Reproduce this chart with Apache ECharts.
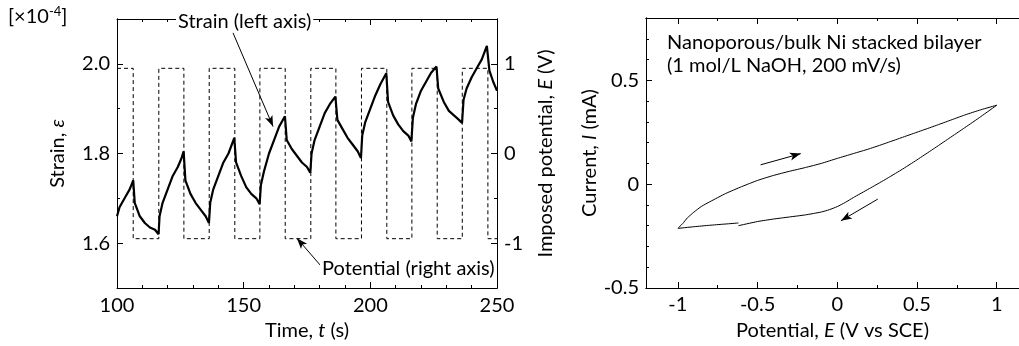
<!DOCTYPE html>
<html>
<head>
<meta charset="utf-8">
<script src="https://cdn.jsdelivr.net/npm/echarts@6/dist/echarts.min.js"></script>
<style>
html,body{margin:0;padding:0;background:#fff;}
#c{width:1019px;height:346px;}
</style>
</head>
<body>
<div id="c"></div>
<script>
// ---------- data ----------
// Left panel: strain (x1e-4) vs time (s)
const strainTime = [100,101,103,105,106.4, 107,109,111,113,115,116.4,
  116.8,118,120,122,124,125.5,126.3, 127,129,131,133,135,136.3,
  136.8,138,140,142,144,146.3, 147,149,151,153,155,156.3,
  156.8,158,160,162,164,166.3, 167,169,171,173,175,176.3,
  176.8,178,180,182,184,186.2, 187,189,191,193,195,196.3,
  196.8,198,200,202,204,206.3, 207,209,211,213,215,216.2,
  216.8,218,220,222,224,226.1, 226.8,229,231,233,235,236.2,
  236.8,238,240,242,244,246, 247,248.5,250];
const strainValue = [1.66,1.68,1.70,1.72,1.74, 1.69,1.66,1.645,1.635,1.63,1.62,
  1.66,1.69,1.72,1.75,1.77,1.79,1.805, 1.74,1.71,1.69,1.675,1.66,1.645,
  1.69,1.72,1.75,1.78,1.80,1.835, 1.78,1.75,1.725,1.71,1.70,1.687,
  1.73,1.76,1.80,1.83,1.86,1.883, 1.83,1.81,1.795,1.78,1.77,1.757,
  1.80,1.83,1.86,1.89,1.91,1.927, 1.875,1.855,1.835,1.82,1.805,1.79,
  1.84,1.87,1.90,1.93,1.955,1.979, 1.915,1.885,1.865,1.85,1.84,1.827,
  1.88,1.91,1.94,1.96,1.98,1.994, 1.945,1.915,1.895,1.885,1.875,1.868,
  1.92,1.945,1.97,1.99,2.01,2.04, 1.985,1.96,1.94];
// Imposed potential (V): switching times and level held from each time
const potentialTime = [100,106.4,116.5,126.4,136.4,146.5,156.4,166.4,176.5,186.4,196.5,206.5,216.4,226.4,236.3,246.4,250];
const potentialValue = [0.95,-0.95,0.95,-0.95,0.95,-0.95,0.95,-0.95,0.95,-0.95,0.95,-0.95,0.95,-0.95,0.95,-0.95,-0.95];
// Left axis ticks
const strainMajor = [1.6,1.8,2.0];
const strainMinor = [1.7,1.9];
const potMajor = [-1,0,1];
const potMinor = [-0.5,0.5];

// Right panel: cyclic voltammogram, potential (V vs SCE) and current (mA)
const cvPotential = [-0.62,-0.8,-0.9,-1.0, -0.97,-0.94,-0.9,-0.85,-0.8,-0.7,-0.6,-0.5,-0.4,-0.3,-0.2,-0.1,0,0.1,0.2,0.3,0.4,0.5,0.6,0.7,0.8,0.9,1.0,
  0.9,0.8,0.7,0.6,0.5,0.4,0.3,0.2,0.1,0.05,0,-0.05,-0.1,-0.2,-0.3,-0.4,-0.5,-0.62];
const cvCurrent = [-0.187,-0.198,-0.205,-0.213, -0.19,-0.162,-0.135,-0.106,-0.085,-0.045,-0.012,0.018,0.042,0.062,0.08,0.1,0.124,0.147,0.17,0.196,0.223,0.25,0.277,0.305,0.333,0.358,0.38,
  0.325,0.272,0.22,0.168,0.117,0.068,0.022,-0.022,-0.065,-0.088,-0.108,-0.123,-0.134,-0.148,-0.158,-0.168,-0.18,-0.2];
const cvXMajor = [-1,-0.5,0,0.5,1];
const cvXMinor = [-0.75,-0.25,0.25,0.75];
const cvYMajor = [-0.5,0,0.5];
const cvYMinor = [-0.4,-0.3,-0.2,-0.1,0.1,0.2,0.3,0.4,0.6,0.7];

// Annotation arrows [startX, startY, endX, endY] in data units
const strainArrow = [145.8, 2.069, 161.6, 1.86];
const potentialArrow = [180.9, -1.267, 171.0, -0.944];
const cvArrowForward = [-0.481, 0.093, -0.229, 0.147];
const cvArrowReverse = [0.254, -0.072, 0.023, -0.176];

// ---------- chart ----------
const FONT = 'Lato, "Noto Sans", "DejaVu Sans", sans-serif';
const FS = 20;
const K = '#000';
const zip = (a, b) => a.map((v, i) => [v, b[i]]);
const lineAxis = {show: true, onZero: false, lineStyle: {color: K, width: 1}};
const labelStyle = {color: K, fontSize: FS, fontFamily: FONT};
const nameStyle = {color: K, fontSize: FS, fontFamily: FONT,
  rich: {i: {fontStyle: 'italic', color: K, fontSize: FS, fontFamily: FONT}}};

function tickAx(extra, values, len, labels, fmt) {
  return Object.assign({
    type: 'value', splitLine: {show: false},
    axisLine: lineAxis,
    axisTick: {show: true, inside: true, length: len, lineStyle: {color: K, width: 1}, customValues: values},
    axisLabel: labels ? Object.assign({show: true, customValues: values, formatter: fmt, margin: 7}, labelStyle) : {show: false}
  }, extra);
}
const arrowLine = (list) => ({
  silent: true, symbol: ['none', 'arrow'], symbolSize: [6, 11],
  lineStyle: {color: K, width: 1, type: 'solid'}, label: {show: false},
  data: list.map(a => [{coord: [a[0], a[1]]}, {coord: [a[2], a[3]]}])
});

const chart = echarts.init(document.getElementById('c'), null, {renderer: 'canvas'});
chart.setOption({
  animation: false,
  backgroundColor: '#fff',
  grid: [
    {left: 117, top: 19, width: 380, height: 269},
    {left: 646, top: 18, width: 373, height: 271}
  ],
  xAxis: [
    {gridIndex: 0, type: 'value', position: 'bottom', min: 100, max: 250, interval: 50,
     splitLine: {show: false}, axisLine: lineAxis,
     axisTick: {inside: true, length: 6, lineStyle: {color: K}},
     minorTick: {show: true, splitNumber: 5, length: 3, lineStyle: {color: K}},
     axisLabel: Object.assign({margin: 8}, labelStyle),
     name: 'Time, {i|t} (s)', nameLocation: 'middle', nameGap: 33, nameTextStyle: nameStyle},
    {gridIndex: 0, type: 'value', position: 'top', min: 100, max: 250, interval: 50,
     splitLine: {show: false}, axisLine: lineAxis,
     axisTick: {inside: true, length: 6, lineStyle: {color: K}},
     minorTick: {show: true, splitNumber: 5, length: 3, lineStyle: {color: K}},
     axisLabel: {show: false}},
    tickAx({gridIndex: 1, position: 'bottom', min: -1.2, max: 1.14,
      name: 'Potential, {i|E} (V vs SCE)', nameLocation: 'middle', nameGap: 33, nameTextStyle: nameStyle},
      cvXMajor, 6, true, v => String(v)),
    tickAx({gridIndex: 1, position: 'bottom', min: -1.2, max: 1.14}, cvXMinor, 3, false),
    tickAx({gridIndex: 1, position: 'top', min: -1.2, max: 1.14}, cvXMajor, 6, false),
    tickAx({gridIndex: 1, position: 'top', min: -1.2, max: 1.14}, cvXMinor, 3, false)
  ],
  yAxis: [
    tickAx({gridIndex: 0, position: 'left', min: 1.5, max: 2.1,
      name: 'Strain, {i|ε}', nameLocation: 'middle', nameGap: 49, nameTextStyle: nameStyle},
      strainMajor, 6, true, v => v.toFixed(1)),
    tickAx({gridIndex: 0, position: 'left', min: 1.5, max: 2.1}, strainMinor, 3, false),
    tickAx({gridIndex: 0, position: 'right', min: -1.5, max: 1.5,
      name: 'Imposed potential, {i|E} (V)', nameLocation: 'middle', nameGap: 39, nameTextStyle: nameStyle},
      potMajor, 6, true, v => String(v)),
    tickAx({gridIndex: 0, position: 'right', min: -1.5, max: 1.5}, potMinor, 3, false),
    tickAx({gridIndex: 1, position: 'left', min: -0.5, max: 0.8,
      name: 'Current, {i|I} (mA)', nameLocation: 'middle', nameGap: 42, nameTextStyle: nameStyle},
      cvYMajor, 6, true, v => String(v)),
    tickAx({gridIndex: 1, position: 'left', min: -0.5, max: 0.8}, cvYMinor, 3, false)
  ],
  series: [
    {type: 'line', xAxisIndex: 0, yAxisIndex: 2, data: zip(potentialTime, potentialValue), step: 'end',
     showSymbol: false, lineStyle: {color: K, width: 1, type: [4, 3]}, z: 2,
     markLine: arrowLine([potentialArrow])},
    {type: 'line', xAxisIndex: 0, yAxisIndex: 0, data: zip(strainTime, strainValue),
     showSymbol: false, lineStyle: {color: K, width: 2.2}, z: 3,
     markLine: arrowLine([strainArrow])},
    {type: 'line', xAxisIndex: 2, yAxisIndex: 4, data: zip(cvPotential, cvCurrent), smooth: 0.2,
     showSymbol: false, lineStyle: {color: K, width: 1}, z: 3,
     markLine: arrowLine([cvArrowForward, cvArrowReverse])}
  ],
  graphic: [
    {type: 'text', left: 8, top: 5, z: 100,
     style: {text: '[×10{s|-4}]', fill: K, font: FS + 'px ' + FONT,
       rich: {s: {fontSize: 13, fontFamily: FONT, fill: K, padding: [0, 0, 10, 0]}}}},
    {type: 'text', left: 176, top: 12, z: 100,
     style: {text: 'Strain (left axis)', fill: K, font: FS + 'px ' + FONT, backgroundColor: '#fff', padding: [0, 2]}},
    {type: 'text', left: 320, top: 259, z: 100,
     style: {text: 'Potential (right axis)', fill: K, font: FS + 'px ' + FONT, backgroundColor: '#fff', padding: [0, 2]}},
    {type: 'text', left: 667, top: 31, z: 100,
     style: {text: 'Nanoporous/bulk Ni stacked bilayer\n(1 mol/L NaOH, 200 mV/s)', fill: K,
       font: FS + 'px ' + FONT, lineHeight: 23}}
  ]
});
</script>
</body>
</html>
